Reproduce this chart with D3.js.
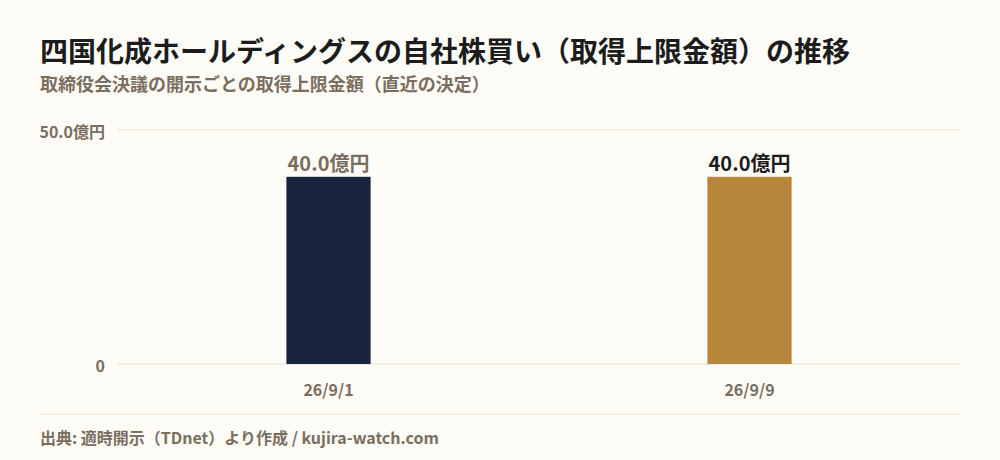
<!DOCTYPE html>
<html>
<head>
<meta charset="utf-8">
<script src="https://cdn.jsdelivr.net/npm/d3@7"></script>
<style>
  html, body { margin: 0; padding: 0; background: #fdfcf7; }
  svg { display: block; font-family: "Noto Sans CJK JP", "Noto Sans", sans-serif; }
</style>
</head>
<body>
<svg id="chart" width="1000" height="460"></svg>
<script>
// data
const dates = ['26/9/1', '26/9/9'];
const amounts = [40.0, 40.0];       // 億円
const barColors = ['#18233d', '#b8863b'];
const labelColors = ['#7a6e5f', '#1c1c1c'];
const yTicks = [0, 50];

const W = 1000, H = 460;
const m = { left: 118, right: 40, top: 130, bottom: 96 };
const svg = d3.select('#chart');

svg.append('rect').attr('width', W).attr('height', H).attr('fill', '#fdfcf7');

svg.append('text')
  .attr('x', 40).attr('y', 62)
  .attr('font-size', 28).attr('font-weight', 700).attr('fill', '#1c1c1c')
  .text('四国化成ホールディングスの自社株買い（取得上限金額）の推移');

svg.append('text')
  .attr('x', 40).attr('y', 91)
  .attr('font-size', 18).attr('font-weight', 700).attr('fill', '#7a6e5f')
  .text('取締役会決議の開示ごとの取得上限金額（直近の決定）');

const x = d3.scaleBand().domain(dates).range([m.left, W - m.right]).padding(0);
const y = d3.scaleLinear().domain([0, 50]).range([H - m.bottom, m.top]);
const barW = x.bandwidth() * 0.2;

// gridlines + y labels
const yAxis = svg.append('g');
yAxis.selectAll('line').data(yTicks).join('line')
  .attr('x1', m.left).attr('x2', W - m.right)
  .attr('y1', d => y(d)).attr('y2', d => y(d))
  .attr('stroke', '#e6dcc6').attr('stroke-width', 1);
yAxis.selectAll('text').data(yTicks).join('text')
  .attr('x', m.left - 13).attr('y', d => y(d) + 8)
  .attr('text-anchor', 'end')
  .attr('font-size', 16).attr('font-weight', 700).attr('fill', '#7a6e5f')
  .text(d => d === 0 ? '0' : d3.format('.1f')(d) + '億円');

// bars
svg.append('g').selectAll('rect').data(amounts).join('rect')
  .attr('x', (d, i) => x(dates[i]) + x.bandwidth() / 2 - barW / 2)
  .attr('y', d => y(d))
  .attr('width', barW)
  .attr('height', d => y(0) - y(d))
  .attr('fill', (d, i) => barColors[i]);

// value labels
svg.append('g').selectAll('text').data(amounts).join('text')
  .attr('x', (d, i) => x(dates[i]) + x.bandwidth() / 2)
  .attr('y', d => y(d) - 6)
  .attr('text-anchor', 'middle')
  .attr('font-size', 20).attr('font-weight', 700)
  .attr('fill', (d, i) => labelColors[i])
  .text(d => d3.format('.1f')(d) + '億円');

// x labels
svg.append('g').selectAll('text').data(dates).join('text')
  .attr('x', d => x(d) + x.bandwidth() / 2)
  .attr('y', H - m.bottom + 32)
  .attr('text-anchor', 'middle')
  .attr('font-size', 16).attr('font-weight', 700).attr('fill', '#7a6e5f')
  .text(d => d);

// footer
svg.append('line')
  .attr('x1', 40).attr('x2', W - m.right)
  .attr('y1', 414).attr('y2', 414)
  .attr('stroke', '#e6dcc6').attr('stroke-width', 1);

svg.append('text')
  .attr('x', 40).attr('y', 444)
  .attr('font-size', 16).attr('font-weight', 700).attr('fill', '#7a6e5f')
  .text('出典: 適時開示（TDnet）より作成 / kujira-watch.com');
</script>
</body>
</html>
